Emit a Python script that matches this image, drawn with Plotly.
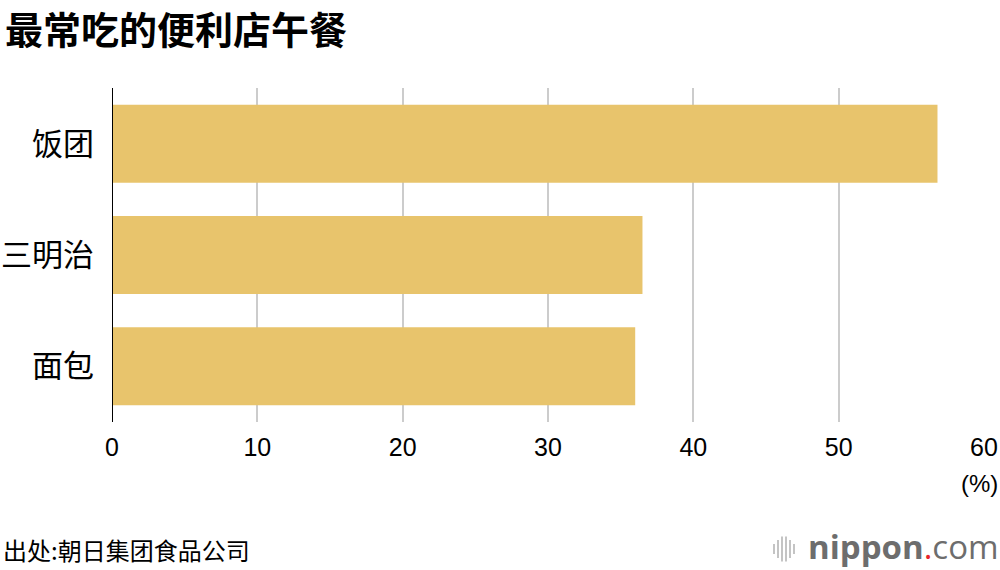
import plotly.graph_objects as go

categories = ["饭团", "三明治", "面包"]
values = [56.8, 36.5, 36.0]
tick_vals = [0, 10, 20, 30, 40, 50, 60]
tick_text = ["0", "10", "20", "30", "40", "50", "60"]

title = "最常吃的便利店午餐"
source = "出处:朝日集团食品公司"
bar_color = "#E8C46C"
font_cjk = "Noto Sans CJK SC"
font_num = "Liberation Sans, Arial"

W, H = 1000, 570
ML, MR, MT, MB = 112, 16, 88, 148
PW, PH = W - ML - MR, H - MT - MB


def px(x):
    return (x - ML) / PW


def py(y):
    return (H - MB - y) / PH


fig = go.Figure(go.Bar(
    y=categories, x=values, orientation="h",
    marker=dict(color=bar_color, line=dict(width=0)),
    hoverinfo="skip",
))

fig.update_layout(
    width=W, height=H,
    margin=dict(l=ML, r=MR, t=MT, b=MB, autoexpand=False),
    paper_bgcolor="white", plot_bgcolor="white",
    bargap=0.3,
    showlegend=False,
    font=dict(family=font_cjk, color="#000"),
    xaxis=dict(
        range=[0, 60], tickvals=tick_vals, ticktext=tick_text,
        showgrid=True, gridcolor="#cccccc", gridwidth=2,
        zeroline=False, showline=False, ticks="",
        tickfont=dict(size=25, family=font_num, color="#000"),
        ticklabelstandoff=8, automargin=False,
        fixedrange=True,
    ),
    yaxis=dict(
        categoryorder="array", categoryarray=categories[::-1],
        showgrid=False, zeroline=False, ticks="", showline=False,
        tickfont=dict(size=31, family=font_cjk, color="#000"),
        ticklabelstandoff=17, automargin=False,
        fixedrange=True,
    ),
)

# zero line
fig.add_shape(type="line", xref="x", yref="paper", x0=0, x1=0, y0=0, y1=1,
              line=dict(color="#000", width=2))

fig.add_annotation(text="<b>" + title + "</b>", xref="paper", yref="paper",
                   x=px(3), y=py(28), xanchor="left", yanchor="middle",
                   showarrow=False, font=dict(size=38, family=font_cjk, color="#000"))

fig.add_annotation(text="(%)", xref="paper", yref="paper", x=px(1000), y=py(483),
                   xanchor="right", yanchor="middle", showarrow=False,
                   font=dict(size=24, family=font_num, color="#000"))

fig.add_annotation(text=source, xref="paper", yref="paper", x=px(126), y=py(549),
                   xanchor="center", yanchor="middle", showarrow=False,
                   font=dict(size=24, family=font_cjk, color="#000"))

fig.add_annotation(
    text="<b>nippon</b><span style='color:#e8262b'>.</span>com",
    xref="paper", yref="paper", x=px(1001), y=py(546),
    xanchor="right", yanchor="middle", showarrow=False,
    font=dict(size=33, family="Open Sans", color="#6d6d6d"))

# logo icon bars
icon_x = [774, 778, 782, 786, 790, 794]
icon_h = [10, 18, 25, 25, 18, 10]
for xi, hi in zip(icon_x, icon_h):
    fig.add_shape(type="line", xref="paper", yref="paper",
                  x0=px(xi), x1=px(xi),
                  y0=py(549 - hi / 2), y1=py(549 + hi / 2),
                  line=dict(color="#c4c4c4", width=2))

fig.write_html(
    "out.html",
    config={"displayModeBar": False, "responsive": False},
    post_script="document.body.style.margin='0';"
                "document.documentElement.style.overflow='hidden';"
                "document.body.style.overflow='hidden';",
)
